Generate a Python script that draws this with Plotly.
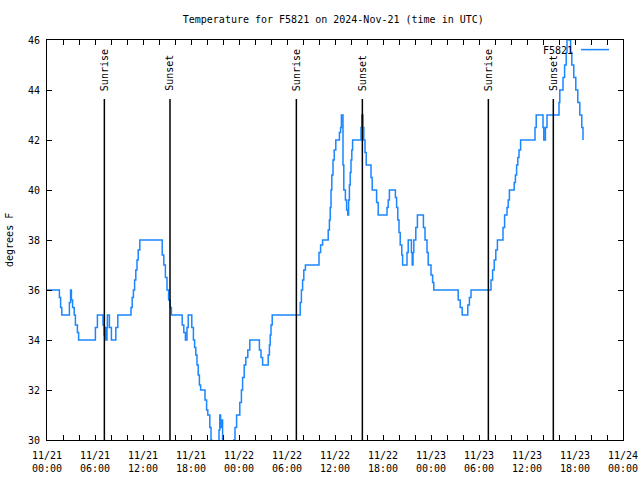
import plotly.graph_objects as go

# ---- data (hours since 2024-11-21 00:00 UTC, temperature in F) ----
HOURS = [0.0, 1.55, 1.7, 1.85, 2.8, 2.95, 3.05, 3.2, 3.4, 3.55, 3.8, 3.95,
         6.05, 6.3, 7.0, 7.15, 7.3, 7.35, 7.5, 7.55, 7.8, 8.05, 8.6, 8.85,
         10.5, 10.65, 10.8, 10.95, 11.1, 11.25, 11.4, 11.6,
         14.4, 14.6, 14.8, 15.0, 15.2, 15.4, 15.55,
         16.9, 17.1, 17.3, 17.5, 17.65, 18.1, 18.3, 18.45, 18.6, 18.75, 18.9,
         19.05, 19.2, 19.75, 19.95, 20.1, 20.35, 20.5, 20.6,
         21.5, 21.6, 21.7, 21.8, 21.95, 22.05,
         23.35, 23.5, 23.7, 24.1, 24.3, 24.45, 24.65, 24.85, 25.1, 25.35,
         26.55, 26.75, 26.95, 27.65, 27.8, 27.9, 28.0, 28.15,
         31.65, 31.8, 31.95, 32.1, 32.3, 34.0, 34.2, 34.45,
         35.15, 35.3, 35.4, 35.5, 35.6, 35.75, 35.9, 36.1, 36.55, 36.7, 36.8,
         37.0, 37.1, 37.3, 37.45, 37.6, 37.7, 37.8, 37.9, 38.0, 38.1, 38.2,
         39.25, 39.35, 39.5, 39.6, 39.75, 39.9, 40.5, 40.65, 41.2, 41.4,
         42.5, 42.65, 42.8, 43.55, 43.7, 43.85, 44.0, 44.15, 44.35, 44.45,
         45.0, 45.15, 45.55, 45.65, 45.75, 45.85, 46.1, 46.3,
         47.05, 47.25, 47.5, 47.65, 48.0, 48.2, 48.35,
         51.4, 51.65, 51.9, 52.6, 52.8, 53.0,
         55.5, 55.7, 55.9, 56.1, 56.3, 57.0, 57.2, 57.5, 57.65, 57.8,
         58.4, 58.55, 58.7, 58.85, 59.0, 59.2,
         61.0, 61.15, 62.0, 62.1, 62.3, 62.5,
         64.0, 64.1, 64.5, 64.7, 64.9, 65.0, 65.25, 65.45, 65.6, 65.85,
         66.1, 66.35, 66.6, 66.85, 67.0]
TEMPS = [36, 35.7, 35.3, 35, 35.5, 36, 35.6, 35.3, 35, 34.6, 34.3, 34,
         34.5, 35, 34.6, 34.2, 34.5, 34, 34.5, 35, 34.5, 34, 34.5, 35,
         35.3, 35.7, 36, 36.4, 36.8, 37.2, 37.6, 38,
         37.4, 37, 36.5, 36, 35.6, 35.3, 35,
         34.6, 34.3, 34, 34.5, 35, 34.5, 34, 33.7, 33.4, 33, 32.6,
         32.2, 32, 31.6, 31.2, 31, 30.5, 30, 29.5,
         30.4, 31, 30.5, 30.8, 30, 29.5,
         30, 30.5, 31, 31.5, 32, 32.5, 33, 33.3, 33.6, 34,
         33.6, 33.3, 33, 33.4, 33.8, 34.2, 34.6, 35,
         35.5, 36, 36.4, 36.8, 37, 37.5, 37.8, 38,
         38.4, 38.8, 39.3, 40, 40.6, 41.2, 41.6, 42, 42.3, 42.5, 43,
         41, 40, 39.6, 39.2, 39, 39.6, 40.2, 40.7, 41.2, 41.6, 42,
         42.5, 43, 42.5, 42, 41.5, 41, 40.5, 40, 39.5, 39,
         39.3, 39.6, 40, 39.7, 39.3, 38.8, 38.3, 37.8, 37.4, 37,
         37.5, 38, 37.5, 37, 37.5, 38, 38.5, 39,
         38.5, 38, 37.5, 37, 36.6, 36.3, 36,
         35.6, 35.3, 35, 35.4, 35.7, 36,
         36.4, 36.8, 37.2, 37.6, 38, 38.5, 39, 39.3, 39.6, 40,
         40.3, 40.6, 41, 41.3, 41.6, 42,
         42.5, 43, 42.5, 42, 42.5, 43,
         43.5, 44, 44.5, 45, 45.5, 46.3, 46, 45.5, 45, 44.5,
         44, 43.5, 43, 42.5, 42]

SUN_HOURS = [7.17, 15.375, 31.17, 39.42, 55.17, 63.29]
SUN_LABELS = ["Sunrise", "Sunset", "Sunrise", "Sunset", "Sunrise", "Sunset"]

X_TICK_HOURS = list(range(0, 73, 2))
X_TICK_LABELS = ["11/21<br>00:00", "11/21<br>06:00", "11/21<br>12:00", "11/21<br>18:00",
                 "11/22<br>00:00", "11/22<br>06:00", "11/22<br>12:00", "11/22<br>18:00",
                 "11/23<br>00:00", "11/23<br>06:00", "11/23<br>12:00", "11/23<br>18:00",
                 "11/24<br>00:00"]
Y_TICKS = [30, 32, 34, 36, 38, 40, 42, 44, 46]

SERIES_NAME = "F5821"
TITLE = "Temperature for F5821 on 2024-Nov-21 (time in UTC)"

FONT = "DejaVu Sans Mono"
LINE_COLOR = "#1a86ff"

ticktext = []
for h in X_TICK_HOURS:
    ticktext.append(X_TICK_LABELS[h // 6] if h % 6 == 0 else "")

fig = go.Figure()
fig.add_trace(go.Scatter(x=HOURS, y=TEMPS, mode="lines", line_shape="hv",
                         line=dict(color=LINE_COLOR, width=1.5),
                         name=SERIES_NAME, showlegend=False))

shapes = []
annotations = []
for h, lab in zip(SUN_HOURS, SUN_LABELS):
    shapes.append(dict(type="line", xref="x", yref="paper", x0=h, x1=h,
                       y0=0, y1=0.8525, line=dict(color="black", width=1.5)))
    annotations.append(dict(x=h, y=0.868, xref="x", yref="paper", text=lab,
                            textangle=-90, showarrow=False, xanchor="center",
                            yanchor="bottom", font=dict(family=FONT, size=10, color="black")))

# legend sample
annotations.append(dict(x=0.916, y=0.975, xref="paper", yref="paper", text=SERIES_NAME,
                        showarrow=False, xanchor="right", yanchor="middle",
                        font=dict(family=FONT, size=10, color="black")))
shapes.append(dict(type="line", xref="paper", yref="paper", x0=0.927, x1=0.9757,
                   y0=0.976, y1=0.976, line=dict(color=LINE_COLOR, width=1.5)))
# y-axis title
annotations.append(dict(x=-0.066, y=0.5, xref="paper", yref="paper", text="degrees F",
                        showarrow=False, textangle=-90, xanchor="center", yanchor="middle",
                        font=dict(family=FONT, size=10, color="black")))

fig.update_layout(
    width=640, height=480, autosize=False,
    margin=dict(l=47, r=17, t=40, b=40, autoexpand=False),
    paper_bgcolor="white", plot_bgcolor="white",
    font=dict(family=FONT, size=10, color="black"),
    title=dict(text=TITLE, x=0.497, xref="paper", y=1 - 19 / 480, yref="container",
               xanchor="center", yanchor="middle",
               font=dict(family=FONT, size=10, color="black")),
    shapes=shapes, annotations=annotations,
    showlegend=False,
)
fig.update_xaxes(range=[0, 72], tickvals=X_TICK_HOURS, ticktext=ticktext,
                 ticks="inside", ticklen=5, tickwidth=1, tickcolor="black",
                 showline=True, linecolor="black", linewidth=1, mirror="allticks",
                 showgrid=False, zeroline=False, tickangle=0, automargin=False,
                 ticklabelstandoff=6)
fig.update_yaxes(range=[30, 46], tickvals=Y_TICKS, ticks="inside", ticklen=5,
                 tickwidth=1, tickcolor="black",
                 showline=True, linecolor="black", linewidth=1, mirror="allticks",
                 showgrid=False, zeroline=False, automargin=False,
                 ticklabelstandoff=4)

fig.write_html("out.html")
